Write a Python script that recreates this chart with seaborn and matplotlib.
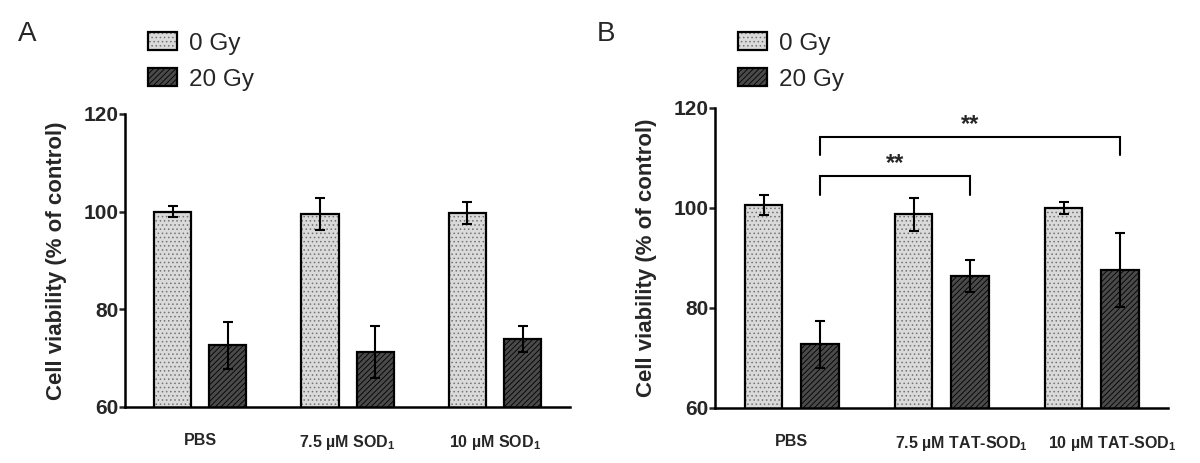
import matplotlib
matplotlib.use("Agg")
import matplotlib.pyplot as plt
import matplotlib.transforms as mtransforms
import pandas as pd
import seaborn as sns

# values (mean and error bar half-length)
groups_a = ["PBS", "7.5 µM SOD$_\\mathbf{1}$", "10 µM SOD$_\\mathbf{1}$"]
groups_b = ["PBS", "7.5 µM TAT-SOD$_\\mathbf{1}$", "10 µM TAT-SOD$_\\mathbf{1}$"]
doses = ["0 Gy", "20 Gy"]

a_0gy = [100.0, 99.5, 99.7]
a_0gy_err = [1.1, 3.3, 2.2]
a_20gy = [72.6, 71.3, 73.9]
a_20gy_err = [4.8, 5.3, 2.6]

b_0gy = [100.5, 98.7, 99.9]
b_0gy_err = [2.0, 3.3, 1.2]
b_20gy = [72.7, 86.4, 87.5]
b_20gy_err = [4.7, 3.2, 7.4]

# significance brackets for panel B: (from group, to group, bar height, leg bottom)
brackets_b = [(0, 1, 106.3, 102.6), (0, 2, 114.1, 110.6)]
bracket_text = "**"

sns.set_style("white")
plt.rcParams["font.family"] = ["Liberation Sans", "DejaVu Sans"]
plt.rcParams["mathtext.fontset"] = "custom"
plt.rcParams["mathtext.bf"] = "Liberation Sans:bold"
plt.rcParams["mathtext.rm"] = "Liberation Sans"
plt.rcParams["hatch.linewidth"] = 0.6

fills = ["#dadada", "#4a4a4a"]
hatches = ["....", "//////"]
hatch_cols = [(0.45, 0.45, 0.45, 1), (0, 0, 0, 1)]

fig = plt.figure(figsize=(12, 4.63), dpi=100)
ax_a = fig.add_axes([0.1042, 0.121, 0.371, 0.633])
ax_b = fig.add_axes([0.596, 0.119, 0.3775, 0.648])


def draw_panel(ax, groups, v0, e0, v20, e20):
    df = pd.DataFrame({
        "group": groups * 2,
        "dose": [doses[0]] * 3 + [doses[1]] * 3,
        "value": v0 + v20,
    })
    sns.barplot(data=df, x="group", y="value", hue="dose", order=groups,
                hue_order=doses, palette=fills, width=0.75, gap=0.33,
                errorbar=None, edgecolor="black", linewidth=1.6,
                legend=False, ax=ax)
    for cont, hatch, hcol, errs in zip(ax.containers, hatches, hatch_cols, [e0, e20]):
        xs, ys = [], []
        for bar in cont:
            bar.set_hatch(hatch)
            bar._hatch_color = hcol  # lighter dots than the black outline
            xs.append(bar.get_x() + bar.get_width() / 2)
            ys.append(bar.get_height())
        ax.errorbar(xs, ys, yerr=errs, fmt="none", ecolor="black",
                    elinewidth=1.5, capsize=3.6, capthick=1.5, zorder=5)
    ax.set_ylim(60, 120)
    ax.set_xlim(-0.51, 2.51)
    ax.set_yticks([60, 80, 100, 120])
    ax.set_xlabel("")
    ax.set_ylabel("Cell viability (% of control)", fontsize=16,
                  fontweight="bold", labelpad=12)
    sns.despine(ax=ax)
    for side in ["left", "bottom"]:
        ax.spines[side].set_linewidth(1.8)
        ax.spines[side].set_color("black")
    ax.tick_params(axis="y", length=4, width=1.8, direction="out",
                   left=True, labelsize=15, pad=0.5)
    ax.tick_params(axis="x", length=0, pad=19, labelsize=11.5)
    for lab in ax.get_yticklabels() + ax.get_xticklabels():
        lab.set_fontweight("bold")
    ax.legend(ax.containers, doses, loc="upper left",
              bbox_to_anchor=(ax.get_position().x0 + 0.019, 0.93),
              bbox_transform=fig.transFigure, frameon=False, fontsize=17.5,
              handlelength=1.2, handleheight=0.75, handletextpad=0.5,
              labelspacing=0.55, borderpad=0, borderaxespad=0)
    return ax


draw_panel(ax_a, groups_a, a_0gy, a_0gy_err, a_20gy, a_20gy_err)
draw_panel(ax_b, groups_b, b_0gy, b_0gy_err, b_20gy, b_20gy_err)

# in the source figure the TAT-SOD1 labels sit a little right of centre
for lab in ax_b.get_xticklabels()[1:]:
    lab.set_transform(lab.get_transform() +
                      mtransforms.ScaledTranslation(0.2, 0, fig.dpi_scale_trans))

# significance brackets, anchored on the 20 Gy bar centres
centres = [b.get_x() + b.get_width() / 2 for b in ax_b.containers[1]]
for i, j, top, leg in brackets_b:
    x1, x2 = centres[i], centres[j]
    ax_b.plot([x1, x1, x2, x2], [leg, top, top, leg], color="black",
              lw=1.5, solid_joinstyle="miter", clip_on=False)
    ax_b.text((x1 + x2) / 2, top + 0.2, bracket_text, ha="center",
              va="bottom", fontsize=17, fontweight="bold")

fig.text(0.015, 0.955, "A", fontsize=20, va="top")
fig.text(0.497, 0.955, "B", fontsize=20, va="top")

fig.savefig("out.png", dpi=100)
